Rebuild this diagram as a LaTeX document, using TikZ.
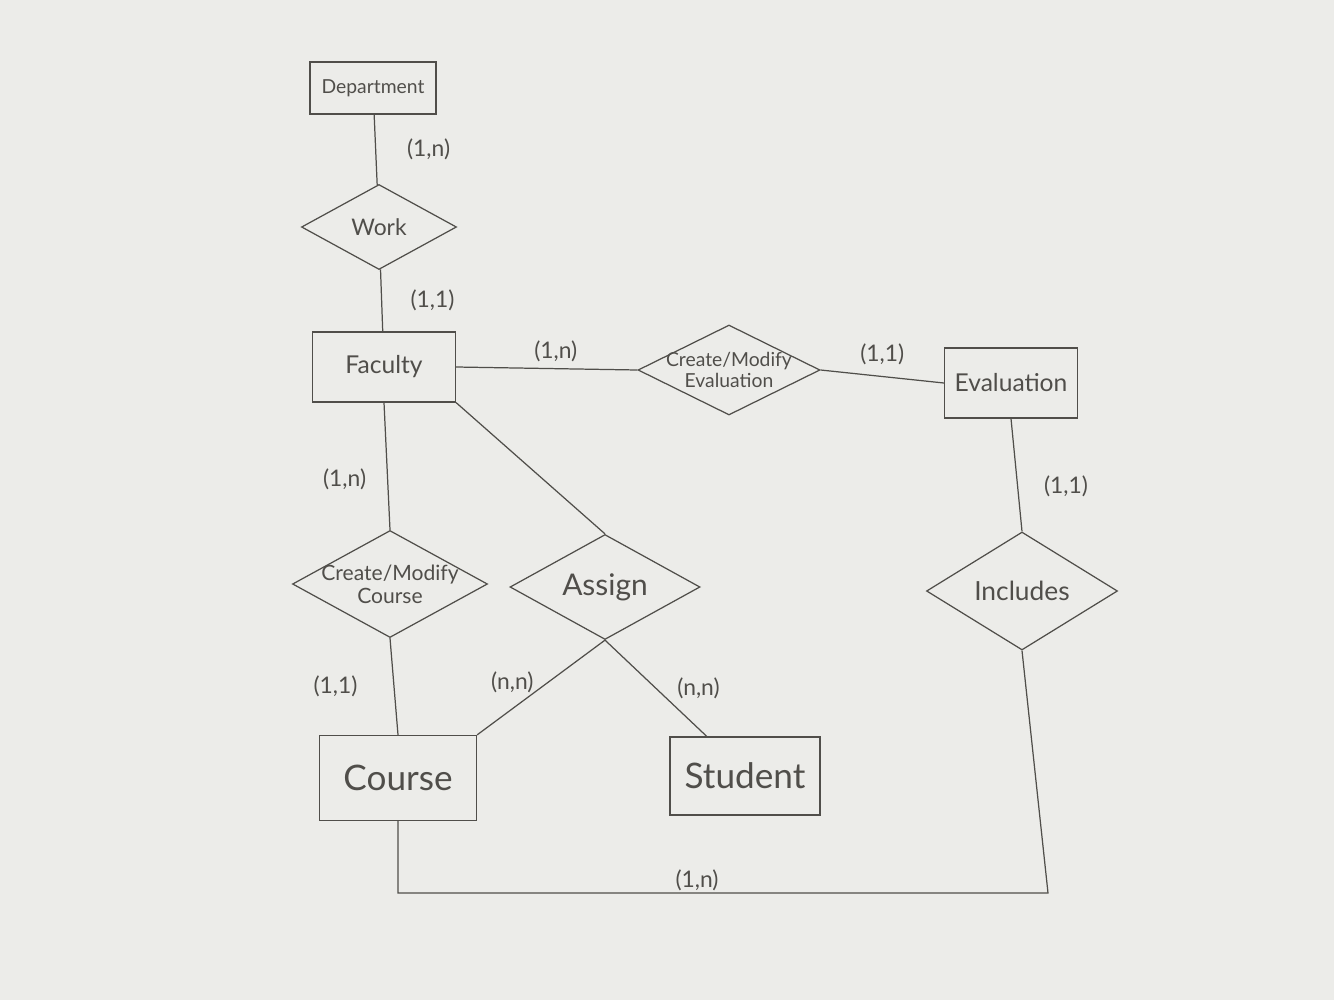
\documentclass[tikz,border=0pt]{standalone}
\usepackage{fontspec}
\setmainfont{Lato}
\usetikzlibrary{shapes.geometric}

\definecolor{paper}{RGB}{236,236,233}
\definecolor{pencil}{RGB}{80,78,74}

\begin{document}
\begin{tikzpicture}[
    x=0.2mm, y=-0.2mm,
    every node/.style={anchor=center, text=pencil},
    entity/.style={draw=pencil, line width=0.7pt, rectangle, inner sep=0pt},
    relation/.style={draw=pencil, line width=0.7pt, diamond, inner sep=-14pt, align=center},
    card/.style={font=\fontsize{13}{15}\selectfont},
    link/.style={draw=pencil, line width=0.7pt}
    ]

% Paper
\fill[paper] (0,0) rectangle (1334,1000);
\useasboundingbox (0,0) rectangle (1334,1000);

% Entities
\node[entity, minimum width=2.52cm, minimum height=1.04cm, font=\fontsize{11}{13}\selectfont] (department) at (373,88) {Department};
\node[entity, minimum width=2.86cm, minimum height=1.40cm, font=\fontsize{14}{16}\selectfont] (faculty) at (384,367) {Faculty};
\node[entity, minimum width=2.66cm, minimum height=1.40cm, font=\fontsize{14}{16}\selectfont] (evaluation) at (1011,383) {Evaluation};
\node[entity, minimum width=3.14cm, minimum height=1.70cm, font=\fontsize{20}{22}\selectfont] (course) at (398,778) {Course};
\node[entity, minimum width=3.00cm, minimum height=1.56cm, font=\fontsize{20}{22}\selectfont] (student) at (745,776) {Student};

% Relationships
\node[relation, minimum width=3.10cm, minimum height=1.70cm, font=\fontsize{13}{15}\selectfont] (work) at (379,227) {Work};
\node[relation, minimum width=3.64cm, minimum height=1.80cm, font=\fontsize{11}{12}\selectfont] (cme) at (729,370) {Create/Modify\\Evaluation};
\node[relation, minimum width=3.90cm, minimum height=2.14cm, font=\fontsize{12}{13}\selectfont] (cmc) at (390,584) {Create/Modify\\Course};
\node[relation, minimum width=3.80cm, minimum height=2.10cm, font=\fontsize{17}{19}\selectfont] (assign) at (605,587) {Assign};
\node[relation, minimum width=3.82cm, minimum height=2.36cm, font=\fontsize{15}{17}\selectfont] (includes) at (1022,591) {Includes};

% Corner of the bottom connector
\coordinate (loop) at (1048,893);

% Connectors
\draw[link] (department) to node[card, midway, right=0.5cm] {(1,n)} (work);
\draw[link] (work) to node[card, midway, right=0.45cm] {(1,1)} (faculty);
\draw[link] (faculty.east) to node[card, pos=0.55, above] {(1,n)} (cme.west);
\draw[link] (cme.east) to node[card, midway, above=0.1cm] {(1,1)} (evaluation.west);
\draw[link] (faculty.south) to node[card, pos=0.6, left=0.3cm] {(1,n)} (cmc.north);
\draw[link] (cmc.south) to node[card, midway, left=0.6cm] {(1,1)} (course.north);
\draw[link] (faculty.south east) to (assign.north);
\draw[link] (assign.south) to node[card, pos=0.45, left=0.15cm] {(n,n)} (course.north east);
\draw[link] (assign.south) to node[card, midway, right=0.3cm] {(n,n)} (student.134);
\draw[link] (evaluation.south) to node[card, pos=0.6, right=0.4cm] {(1,1)} (includes.north);
\draw[link] (includes.south) -- (loop) -| node[card, pos=0.27, above, inner sep=1pt] {(1,n)} (course.south);

\end{tikzpicture}
\end{document}
